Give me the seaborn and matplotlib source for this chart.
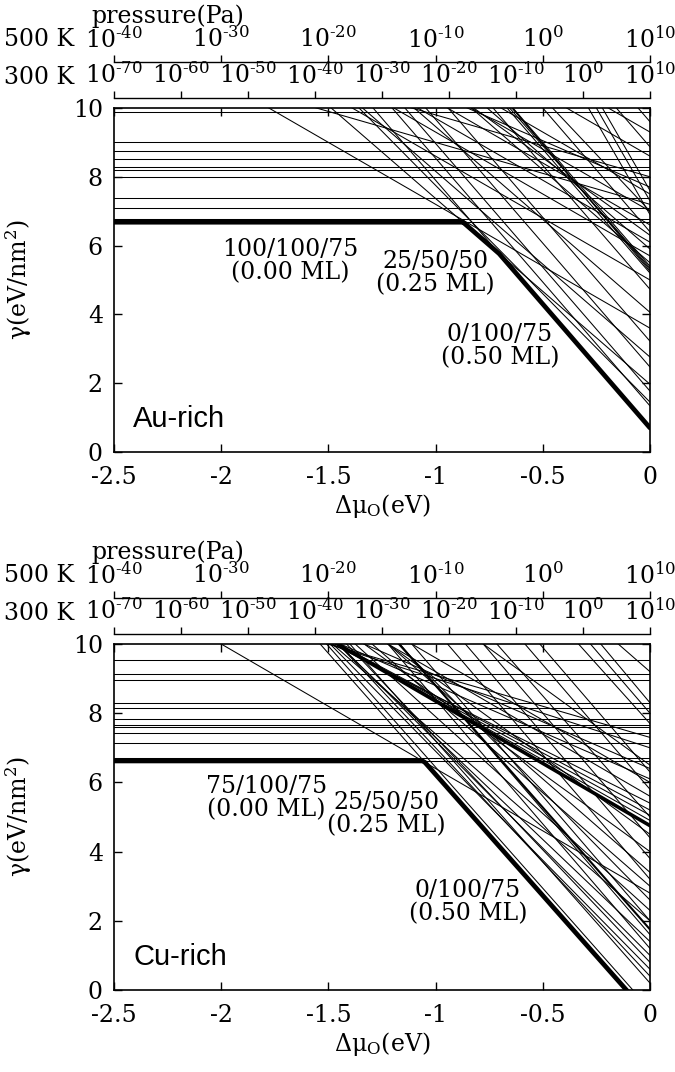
import numpy as np
import pandas as pd
import matplotlib
matplotlib.use("Agg")
import matplotlib.pyplot as plt
import seaborn as sns

# surface energy lines, gamma(dmu) = g0 - slope * dmu  (g0 read at dmu = 0)
# Au-rich panel
au_flat = [9.87, 9.01, 8.76, 8.53, 8.29, 8.20, 7.99, 7.38, 7.08, 6.76, 6.68]
au_g0 = [0.70, 3.60, 1.34, 1.45, 1.77, 1.97, 2.47, 2.76, 3.22, 4.06, 4.73,
         5.00, 5.20, 5.25, 5.30, 5.35, 5.40, 5.50, 5.70, 5.90, 6.10, 6.30,
         6.40, 6.60, 7.00, 7.00, 7.20, 7.50, 7.70, 8.00, 8.60, 8.87, 9.30,
         9.60, 6.90, 7.30, 7.60]
au_slope = [7.2, 3.6, 7.2, 6.3, 7.2, 5.4, 7.2, 5.4, 7.2, 5.4, 7.2,
            3.6, 7.2, 7.4, 7.3, 7.1, 7.2, 5.4, 3.6, 5.4, 3.6, 4.5,
            7.2, 3.6, 3.6, 6.6, 1.8, 3.6, 2.7, 1.8, 3.6, 7.2, 3.6,
            7.2, 10.8, 10.8, 10.8]

# Cu-rich panel
cu_flat = [9.54, 9.12, 8.96, 8.30, 8.14, 7.82, 7.67, 7.59, 7.44, 7.13, 6.71, 6.62]
cu_g0 = [-0.77, -0.56, 2.80, 4.90, 5.05, 5.20, 5.40, 1.60, 0.20, 0.40,
         0.60, 0.80, 1.00, 1.20, 1.40, 2.00, 2.00, 2.30, 2.60, 3.00, 3.40,
         4.00, 4.40, 4.50, 5.00, 5.60, 6.00, 6.10, 6.40, 6.50, 7.00, 7.30,
         5.80, 6.30, 3.80, 3.20, 8.30, 8.00, 7.70, 9.20]
cu_slope = [7.0, 7.0, 3.6, 3.5, 3.4, 3.3, 3.1, 7.2, 7.0, 6.6,
            6.3, 6.5, 6.2, 7.2, 5.9, 5.4, 7.2, 5.6, 6.3, 5.4, 5.4,
            4.5, 7.2, 4.5, 7.0, 3.6, 3.6, 2.7, 2.7, 4.5, 2.0, 1.8,
            7.2, 7.2, 7.2, 7.2, 7.4, 7.2, 6.9, 5.4]
# highlighted lines in the Cu-rich panel (25/50/50 and a 0.50 ML one)
cu_bold_g0 = [4.75, 1.75]
cu_bold_slope = [3.6, 7.05]

au_labels = ["100/100/75\n(0.00 ML)", "25/50/50\n(0.25 ML)", "0/100/75\n(0.50 ML)"]
cu_labels = ["75/100/75\n(0.00 ML)", "25/50/50\n(0.25 ML)", "0/100/75\n(0.50 ML)"]

dmu_ticks = [-2.5, -2, -1.5, -1, -0.5, 0]
dmu_labels = ["-2.5", "-2", "-1.5", "-1", "-0.5", "0"]
gamma_ticks = [0, 2, 4, 6, 8, 10]
p500_exp = [-40, -30, -20, -10, 0, 10]
p300_exp = [-70, -60, -50, -40, -30, -20, -10, 0, 10]

sns.set_style("ticks")
plt.rcParams["font.family"] = ["DejaVu Serif"]
plt.rcParams["mathtext.fontset"] = "dejavuserif"
plt.rcParams["axes.unicode_minus"] = False
for key in ["text.color", "axes.labelcolor", "xtick.color", "ytick.color", "axes.edgecolor"]:
    plt.rcParams[key] = "black"

FS = 17
X0, X1 = dmu_ticks[0], dmu_ticks[-1]


def lines_frame(flat, g0, slope):
    rows = []
    for i, v in enumerate(flat):
        rows.append(("h%d" % i, X0, v))
        rows.append(("h%d" % i, X1, v))
    for i, (g, s) in enumerate(zip(g0, slope)):
        rows.append(("s%d" % i, X0, g - s * X0))
        rows.append(("s%d" % i, X1, g - s * X1))
    return pd.DataFrame(rows, columns=["line", "dmu", "gamma"])


def draw_panel(ax, flat, g0, slope, labels, label_xy, tag, bold_g0=(), bold_slope=()):
    df = lines_frame(flat, g0, slope)
    sns.lineplot(data=df, x="dmu", y="gamma", units="line", estimator=None,
                 color="black", lw=0.75, sort=False, ax=ax)

    # lowest surface energy = thick envelope
    grid = np.linspace(X0, X1, 2001)
    all_g = [np.full_like(grid, v) for v in flat]
    all_g += [g - s * grid for g, s in zip(g0, slope)]
    env = np.min(np.vstack(all_g), axis=0)
    sns.lineplot(x=grid, y=env, color="black", lw=3.4, ax=ax)

    widths = [2.6, 1.5]
    for g, s, w in zip(bold_g0, bold_slope, widths):
        sns.lineplot(x=[X0, X1], y=[g - s * X0, g - s * X1], color="black", lw=w, ax=ax)

    for txt, (x, y) in zip(labels, label_xy):
        ax.text(x, y, txt, ha="center", va="center", fontsize=FS, linespacing=1.0)
    ax.text(-2.41, 0.95, tag, ha="left", va="center", fontsize=21,
            family=["Liberation Sans", "DejaVu Sans"])

    ax.set_xlim(X0, X1)
    ax.set_ylim(gamma_ticks[0], gamma_ticks[-1])
    ax.set_xticks(dmu_ticks, dmu_labels)
    ax.set_yticks(gamma_ticks)
    ax.tick_params(direction="in", top=True, right=True, length=6, width=1,
                   labelsize=FS)
    ax.tick_params(axis="x", pad=10)
    ax.tick_params(axis="y", pad=8)
    for sp in ax.spines.values():
        sp.set_visible(True)
        sp.set_linewidth(1.2)
    ax.set_xlabel("Δμ$_\\mathrm{O}$(eV)", fontsize=FS)
    ax.set_ylabel("γ(eV/nm$^2$)", fontsize=FS)
    ax.xaxis.set_label_coords(0.5, -0.115)
    ax.yaxis.set_label_coords(-0.15, 0.5)


def pressure_axis(fig, y, exps):
    pax = fig.add_axes([L, y, W, 1e-4])
    pax.set_xlim(X0, X1)
    span = exps[-1] - exps[0]
    pos = [X0 + (X1 - X0) * (e - exps[0]) / span for e in exps]
    pax.set_xticks(pos, ["10$^{\\text{%d}}$" % e for e in exps])
    pax.set_yticks([])
    for side in ["left", "right", "bottom"]:
        pax.spines[side].set_visible(False)
    pax.spines["top"].set_visible(True)
    pax.spines["top"].set_linewidth(1.0)
    pax.xaxis.tick_top()
    pax.tick_params(axis="x", direction="out", length=5, width=1, pad=2, labelsize=FS)
    pax.patch.set_visible(False)
    return pax


W_PX, H_PX = 675, 1072
fig = plt.figure(figsize=(W_PX / 100, H_PX / 100), dpi=100)
L, W = 114 / W_PX, 536 / W_PX

ax1 = fig.add_axes([L, 1 - 452 / H_PX, W, 344 / H_PX])
ax2 = fig.add_axes([L, 1 - 990 / H_PX, W, 346 / H_PX])

draw_panel(ax1, au_flat, au_g0, au_slope, au_labels,
           [(-1.68, 5.55), (-1.0, 5.2), (-0.70, 3.07)], "Au-rich")
draw_panel(ax2, cu_flat, cu_g0, cu_slope, cu_labels,
           [(-1.79, 5.55), (-1.23, 5.08), (-0.85, 2.55)], "Cu-rich",
           cu_bold_g0, cu_bold_slope)

for top in [108, 644]:
    pressure_axis(fig, 1 - (top - 46) / H_PX, p500_exp)
    pressure_axis(fig, 1 - (top - 10) / H_PX, p300_exp)
    fig.text(91 / W_PX, 1 - (top - 92) / H_PX, "pressure(Pa)", ha="left", va="center", fontsize=FS)
    fig.text(0.006, 1 - (top - 68) / H_PX, "500 K", ha="left", va="center", fontsize=FS)
    fig.text(0.006, 1 - (top - 30) / H_PX, "300 K", ha="left", va="center", fontsize=FS)

fig.savefig("out.png", dpi=100)
